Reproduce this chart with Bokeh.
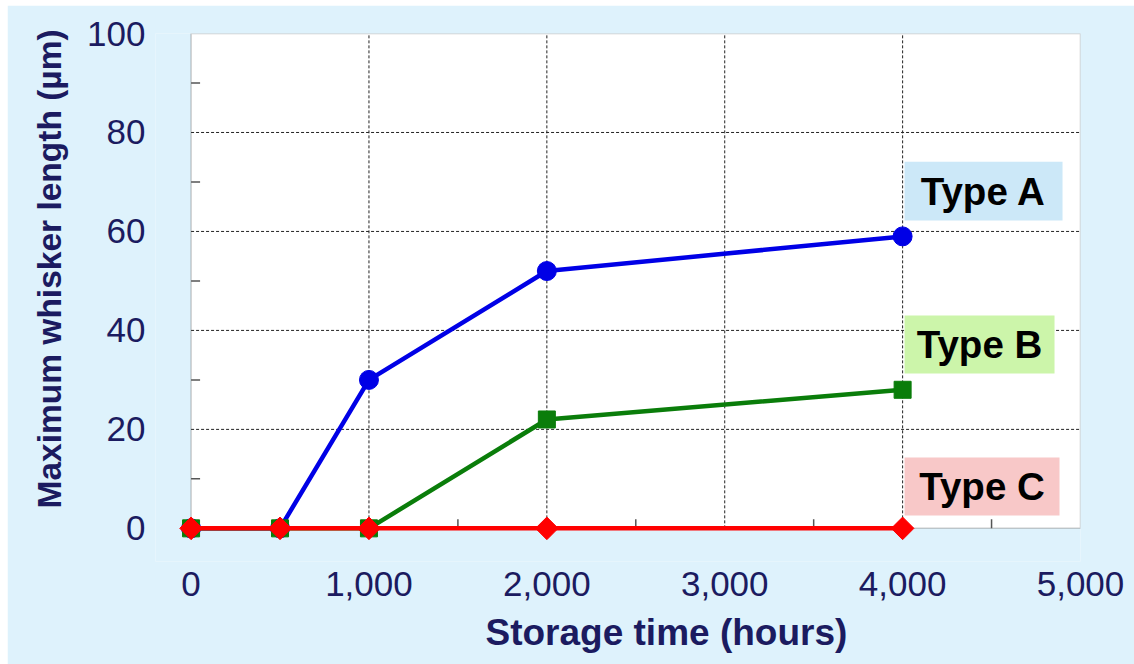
import math
from bokeh.plotting import figure
from bokeh.layouts import column, row
from bokeh.models import FixedTicker, BoxAnnotation, Label, NumeralTickFormatter, Title, Spacer
from bokeh.embed import file_html
from bokeh.resources import INLINE

# ---- data ----
hours = [0, 500, 1000, 2000, 4000]
type_a = [0, 0, 30, 52, 59]
type_b = [0, 0, 0, 22, 28]
type_c = [0, 0, 0, 0, 0]

x_ticks = [0, 1000, 2000, 3000, 4000, 5000]
x_minor = [500, 1500, 2500, 3500, 4500]
y_ticks = [0, 20, 40, 60, 80, 100]
y_minor = [10, 30, 50, 70, 90]

series_names = ["Type A", "Type B", "Type C"]
series_colors = ["#0000E6", "#0A7D0A", "#FF0000"]
box_colors = ["#CCE8F8", "#CCF5AA", "#F8C8C8"]
# label box extents (data units)
box_left = [4011, 4011, 4011]
box_right = [4899, 4854, 4882]
box_bottom = [62.2, 31.3, 2.6]
box_top = [74.1, 43.0, 14.3]

NAVY = "#1B1B60"
BG = "#DEF2FC"
FONT = "Liberation Sans"
GRAY = "#555555"

x0, x1 = x_ticks[0], x_ticks[-1]
y0, y1 = y_ticks[0], y_ticks[-1]
x_pad, y_pad = 200, 6.7      # margin inside the frame so markers on the axes are not clipped
tick_len_x, tick_len_y = 1.82, 50.6   # inward tick length (about 9 px) in data units

p = figure(width=1127, height=659, x_range=(x0 - x_pad, x1), y_range=(y0 - y_pad, y1),
           output_backend="svg", toolbar_location=None,
           min_border_left=148, min_border_right=54,
           min_border_top=28, min_border_bottom=103)
p.border_fill_color = BG
p.background_fill_color = BG
p.outline_line_color = None
p.grid.visible = False

# white plot area with its border
p.add_layout(BoxAnnotation(left=x0, right=x1, bottom=y0, top=y1,
                           fill_color="white", fill_alpha=1.0,
                           line_color=GRAY, line_width=1.5, level="underlay"))

p.xaxis.ticker = FixedTicker(ticks=x_ticks)
p.yaxis.ticker = FixedTicker(ticks=y_ticks)
p.xaxis.formatter = NumeralTickFormatter(format="0,0")

for ax in (p.xaxis, p.yaxis):
    ax.axis_line_color = None
    ax.major_tick_line_color = None
    ax.minor_tick_line_color = None
    ax.major_label_text_font = FONT
    ax.major_label_text_font_size = "35px"
    ax.major_label_text_color = NAVY

p.xaxis.major_label_standoff = 4
p.yaxis.major_label_standoff = 4

# dashed grid lines at the major ticks (inside the plot area)
vx = x_ticks[1:-1]
p.segment(x0=vx, y0=[y0] * len(vx), x1=vx, y1=[y1] * len(vx),
          line_color="#222222", line_dash="3 2", line_width=1)
hy = y_ticks[1:-1]
p.segment(x0=[x0] * len(hy), y0=hy, x1=[x1] * len(hy), y1=hy,
          line_color="#222222", line_dash="3 2", line_width=1)

# inward minor tick marks
p.segment(x0=x_minor, y0=[y0] * len(x_minor), x1=x_minor, y1=[y0 + tick_len_x] * len(x_minor),
          line_color=GRAY, line_width=1.5)
p.segment(x0=[x0] * len(y_minor), y0=y_minor, x1=[x0 + tick_len_y] * len(y_minor), y1=y_minor,
          line_color=GRAY, line_width=1.5)

markers = ["circle", "square", "square"]
sizes = [19, 17, 16]
angles = [0, 0, math.pi / 4]
for vals, col, mk, sz, ang in zip([type_a, type_b, type_c], series_colors, markers, sizes, angles):
    p.line(hours, vals, line_color=col, line_width=4.5)
    p.scatter(hours, vals, marker=mk, size=sz, angle=ang, fill_color=col, line_color=col)

for i, name in enumerate(series_names):
    p.add_layout(BoxAnnotation(left=box_left[i], right=box_right[i],
                               bottom=box_bottom[i], top=box_top[i],
                               fill_color=box_colors[i], fill_alpha=1.0,
                               line_color=None))
    p.add_layout(Label(x=(box_left[i] + box_right[i]) / 2, y=(box_bottom[i] + box_top[i]) / 2,
                       text=name, text_font=FONT, text_font_size="38.5px",
                       text_font_style="bold", text_color="black",
                       text_align="center", text_baseline="middle"))

p.add_layout(Title(text="Storage time (hours)", align="left", offset=330, standoff=22,
                   text_font=FONT, text_font_size="37px", text_font_style="bold",
                   text_color=NAVY), "below")
p.add_layout(Title(text="Maximum whisker length (µm)", align="left", offset=53,
                   standoff=33,
                   text_font=FONT, text_font_size="33.5px", text_font_style="bold",
                   text_color=NAVY), "left")

layout = column(Spacer(height=5), row(Spacer(width=7), p))
open("out.html", "w").write(file_html(layout, INLINE))
